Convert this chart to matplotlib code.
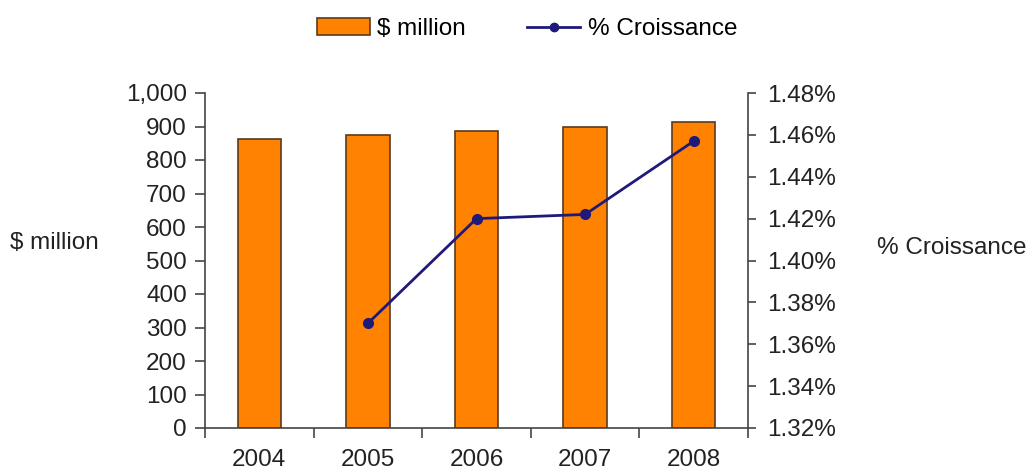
import matplotlib
matplotlib.use("Agg")
import matplotlib.pyplot as plt
import numpy as np
from matplotlib.ticker import FuncFormatter, FixedLocator
from matplotlib.patches import Patch
from matplotlib.lines import Line2D

years = ["2004", "2005", "2006", "2007", "2008"]
sales = [862, 874, 886, 900, 914]
growth = [np.nan, 1.37, 1.42, 1.422, 1.457]

bar_color = "#FF8200"
bar_edge = "#5C3A1E"
line_color = "#1F1A7A"
FS = 17.5

plt.rcParams['font.family'] = ['Liberation Sans', 'DejaVu Sans']
fig = plt.figure(figsize=(10.33, 4.75), dpi=100)
ax = fig.add_axes([205/1033, 47/475, (748-205)/1033, (428-93)/475])
x = np.arange(len(years))
ax.bar(x, sales, width=0.4, color=bar_color, edgecolor=bar_edge, linewidth=1.2, zorder=2)
ax.set_xlim(-0.5, len(years) - 0.5)
ax.set_ylim(0, 1000)
ax.set_yticks(np.arange(0, 1001, 100))
ax.yaxis.set_major_formatter(FuncFormatter(lambda v, p: f"{int(v):,}"))
ax.set_xticks(x)
ax.set_xticklabels(years)
ax.xaxis.set_minor_locator(FixedLocator(np.arange(-0.5, len(years), 1.0)))
ax.tick_params(axis='x', which='major', length=0, pad=15, labelsize=FS, colors='#222222')
ax.tick_params(axis='x', which='minor', length=7, width=1.2, color='#444444', direction='out')
ax.tick_params(axis='y', length=7, width=1.2, color='#444444', labelsize=FS, labelcolor='#222222', pad=6)
for s in ['top', 'right']:
    ax.spines[s].set_visible(False)
for s in ['left', 'bottom']:
    ax.spines[s].set_color('#444444')
    ax.spines[s].set_linewidth(1.2)

ax2 = ax.twinx()
ax2.plot(x, growth, color=line_color, linewidth=2, marker='o', markersize=7, zorder=3)
ax2.set_ylim(1.32, 1.48)
ax2.set_yticks(np.round(np.arange(1.32, 1.4801, 0.02), 2))
ax2.yaxis.set_major_formatter(FuncFormatter(lambda v, p: f"{v:.2f}%"))
ax2.tick_params(axis='y', length=6, width=1.2, color='#444444', labelsize=FS, labelcolor='#222222', pad=8)
for s in ['top', 'left', 'bottom']:
    ax2.spines[s].set_visible(False)
ax2.spines['right'].set_color('#444444')
ax2.spines['right'].set_linewidth(1.2)

fig.text(10/1033, 1 - 243/475, "$ million", fontsize=FS, va='center', ha='left', color='#222222')
fig.text(877/1033, 1 - 248/475, "% Croissance", fontsize=FS, va='center', ha='left', color='#222222')

handles = [Patch(facecolor=bar_color, edgecolor=bar_edge, linewidth=1.2),
           Line2D([0], [0], color=line_color, linewidth=2, marker='o', markersize=6)]
fig.legend(handles, ["$ million", "% Croissance"], loc='center', ncol=2,
           bbox_to_anchor=(527/1033, 1 - 29/475), frameon=False, fontsize=FS,
           handlelength=2.2, handleheight=0.7, columnspacing=2.5, handletextpad=0.3)

fig.savefig("out.png", dpi=100)
